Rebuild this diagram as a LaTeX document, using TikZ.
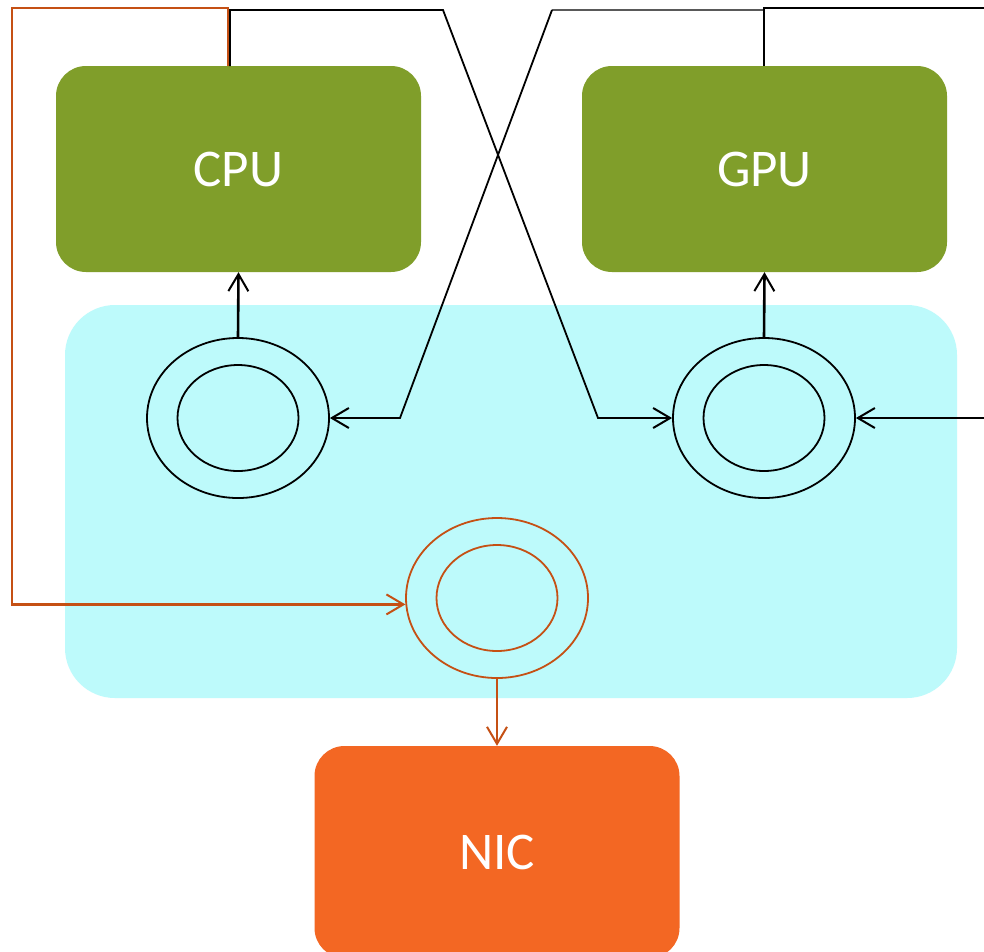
\documentclass[tikz,border=0pt]{standalone}
\usepackage{fontspec}
\setmainfont{Carlito}
\usetikzlibrary{shapes.geometric,arrows.meta,calc}

\definecolor{chipgreen}{RGB}{128,158,42}
\definecolor{fabric}{RGB}{189,250,251}
\definecolor{nicorange}{RGB}{243,103,35}
\definecolor{netline}{RGB}{197,80,20}

\tikzset{
  chip/.style={rounded corners=30pt, minimum width=365pt, minimum height=206pt,
    inner sep=0pt, text=white, font=\fontsize{53}{60}\selectfont},
  ringout/.style={ellipse, draw, line width=1.8pt, minimum width=182pt,
    minimum height=160pt, inner sep=0pt},
  ringin/.style={ellipse, draw, line width=1.8pt, minimum width=121pt,
    minimum height=106pt, inner sep=0pt},
  wire/.style={line width=1.8pt, line join=miter},
  upwire/.style={line width=2.6pt},
  netwire/.style={line width=2.4pt, draw=netline},
  tip/.style={-{Straight Barb[length=17pt, width=20pt, line width=2pt]}},
}

\begin{document}
\begin{tikzpicture}[x=1pt, y=-1pt]
  \clip (0,0) rectangle (984,951);
  \fill[white] (0,0) rectangle (984,951);

  % shared memory fabric
  \node[fill=fabric, rounded corners=50pt, minimum width=892pt, minimum height=393pt,
        inner sep=0pt] (fab) at (511,501.5) {};

  % processors and network card
  \node[chip, fill=chipgreen] (cpu) at (238.5,169) {\raisebox{-3pt}{CPU}};
  \node[chip, fill=chipgreen] (gpu) at (764.5,169) {\raisebox{-3pt}{GPU}};
  \node[chip, fill=nicorange, minimum height=212pt] (nic) at (497,852) {NIC};

  % queue rings
  \node[ringout] (cpuring) at (238,418) {};
  \node[ringin]  (cpuin)   at (238,418) {};
  \node[ringout] (gpuring) at (764,418) {};
  \node[ringin]  (gpuin)   at (764,418) {};
  \node[ringout, draw=netline] (nicring) at (497,598) {};
  \node[ringin,  draw=netline] (nicin)   at (497,598) {};

  % routing points
  \coordinate (cpuout) at (230,66);
  \coordinate (cpunet) at (228,66);
  \coordinate (gpuout) at (764,66);
  \coordinate (ta) at (443,10);
  \coordinate (tb) at (552,10);
  \coordinate (ba) at (598,418);
  \coordinate (bb) at (400,418);
  \coordinate (leftcorner) at (12,8);
  \coordinate (rightin) at (984,418);
  \coordinate (rightout) at (984,8);

  % ring to processor
  \draw[upwire, tip] (cpuring.north) -- (cpu.south);
  \draw[upwire, tip] (gpuring.north) -- (gpu.south);

  % crossing links
  \draw[wire, tip] (cpuout) |- (ta) -- (ba) -- (gpuring.west);
  \draw[line width=1.2pt, gray!70!black] (gpuout |- tb) -- (tb);
  \draw[wire, tip] (tb) -- (bb) -- (cpuring.east);
  \draw[wire] (gpuout) |- (rightout);
  \draw[wire, tip] (rightin) -- (gpuring.east);

  % network path
  \draw[netwire, tip] (cpunet) |- (leftcorner) |- (nicring.184);
  \draw[netwire, tip] (nicring.south) -- (nic.north);
\end{tikzpicture}
\end{document}
